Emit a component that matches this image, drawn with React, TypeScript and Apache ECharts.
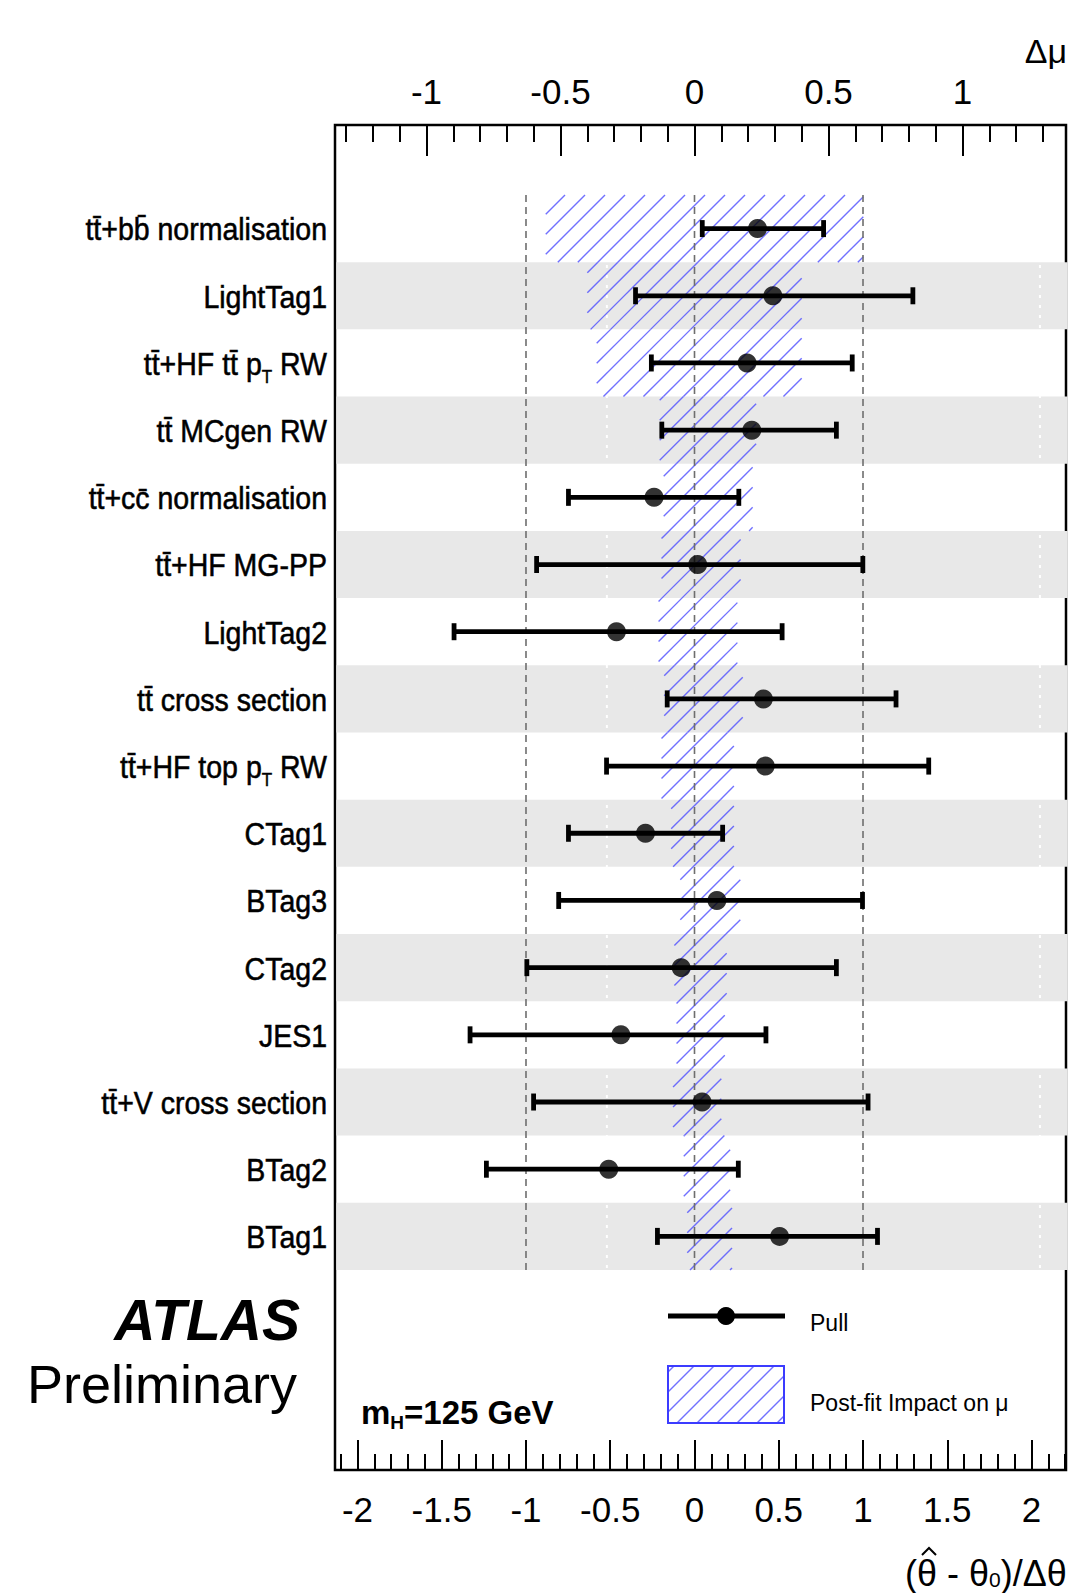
import React, { useEffect, useRef } from 'react';
import * as echarts from 'echarts';

// ---------------- data ----------------
const paramNames = [
  'tt\u0304+bb\u0304 normalisation',
  'LightTag1',
  'tt\u0304+HF tt\u0304 p_T RW',
  'tt\u0304 MCgen RW',
  'tt\u0304+cc\u0304 normalisation',
  'tt\u0304+HF MG-PP',
  'LightTag2',
  'tt\u0304 cross section',
  'tt\u0304+HF top p_T RW',
  'CTag1',
  'BTag3',
  'CTag2',
  'JES1',
  'tt\u0304+V cross section',
  'BTag2',
  'BTag1',
];
const pullValues = [0.374, 0.465, 0.312, 0.34, -0.24, 0.019, -0.463, 0.409, 0.42, -0.291, 0.133, -0.079, -0.437, 0.045, -0.509, 0.505];
const pullLow = [0.046, -0.35, -0.256, -0.194, -0.748, -0.937, -1.427, -0.162, -0.522, -0.748, -0.806, -0.995, -1.332, -0.955, -1.235, -0.22];
const pullHigh = [0.766, 1.296, 0.936, 0.842, 0.263, 0.999, 0.52, 1.196, 1.39, 0.167, 0.997, 0.842, 0.424, 1.03, 0.26, 1.086];
const impactLow = [-0.555, -0.4, -0.365, -0.13, -0.115, -0.123, -0.134, -0.113, -0.123, -0.087, -0.053, -0.075, -0.067, -0.08, -0.04, -0.027];
const impactHigh = [0.63, 0.4, 0.4, 0.23, 0.217, 0.172, 0.16, 0.18, 0.147, 0.147, 0.171, 0.12, 0.113, 0.1, 0.133, 0.14];

const pullTicks = [-2, -1.5, -1, -0.5, 0, 0.5, 1, 1.5, 2];
const pullMinorTicks = [-2.1, -1.9, -1.8, -1.7, -1.6, -1.4, -1.3, -1.2, -1.1, -0.9, -0.8, -0.7, -0.6, -0.4, -0.3, -0.2, -0.1, 0.1, 0.2, 0.3, 0.4, 0.6, 0.7, 0.8, 0.9, 1.1, 1.2, 1.3, 1.4, 1.6, 1.7, 1.8, 1.9, 2.1, 2.2];
const impactTicks = [-1, -0.5, 0, 0.5, 1];
const impactMinorTicks = [-1.3, -1.2, -1.1, -0.9, -0.8, -0.7, -0.6, -0.4, -0.3, -0.2, -0.1, 0.1, 0.2, 0.3, 0.4, 0.6, 0.7, 0.8, 0.9, 1.1, 1.2, 1.3];
const referenceLines = [-1, 0, 1];
const bandGapLines = [-0.52, 2.05];

// ---------------- axis ranges ----------------
const PULL_MIN = -2.1335;
const PULL_MAX = 2.2047;
const IMPACT_MIN = -1.3414;
const IMPACT_MAX = 1.3862;
const ROW_MIN = -1.5419;
const ROW_MAX = 18.477;

const FONT = '"Liberation Sans", Arial, Helvetica, sans-serif';
const HATCH_SPACING = 20;
const hatchStyle = { stroke: '#4d4dff', lineWidth: 1.4, opacity: 0.8 };

function hatchLines(x0: number, y0: number, x1: number, y1: number) {
  const out: any[] = [];
  const start = Math.ceil((x0 + y0) / HATCH_SPACING) * HATCH_SPACING;
  for (let c = start; c <= x1 + y1; c += HATCH_SPACING) {
    const xa = Math.max(x0, c - y1);
    const xb = Math.min(x1, c - y0);
    if (xb - xa > 0.5) {
      out.push({ type: 'line', shape: { x1: xa, y1: c - xa, x2: xb, y2: c - xb }, style: hatchStyle, silent: true });
    }
  }
  return out;
}

function richLabel(name: string) {
  return name
    .split('_T')
    .map((p) => (p ? `{n|${p}}` : ''))
    .join('{s|T}');
}

function buildOption(): any {
  const n = paramNames.length;
  const bandRows = paramNames.map((_, i) => i).filter((i) => i % 2 === 1);
  const tickLine = { color: '#000', width: 2 };
  const labelStyle = { fontSize: 35, fontFamily: FONT, color: '#000' };

  return {
    animation: false,
    backgroundColor: '#fff',
    grid: {
      left: 335,
      top: 125,
      width: 731,
      height: 1345,
      show: true,
      borderColor: '#000',
      borderWidth: 2.5,
      backgroundColor: 'transparent',
      containLabel: false,
      outerBoundsMode: 'none',
    },
    xAxis: [
      {
        type: 'value', position: 'bottom', min: PULL_MIN, max: PULL_MAX,
        axisLine: { show: false, onZero: false }, splitLine: { show: false },
        axisTick: { show: true, inside: true, length: 30, customValues: pullTicks, lineStyle: tickLine },
        axisLabel: { show: true, customValues: pullTicks, margin: 22, ...labelStyle },
      },
      {
        type: 'value', position: 'bottom', min: PULL_MIN, max: PULL_MAX,
        axisLine: { show: false, onZero: false }, splitLine: { show: false },
        axisTick: { show: true, inside: true, length: 16, customValues: pullMinorTicks, lineStyle: tickLine },
        axisLabel: { show: false },
      },
      {
        type: 'value', position: 'top', min: IMPACT_MIN, max: IMPACT_MAX,
        axisLine: { show: false, onZero: false }, splitLine: { show: false },
        axisTick: { show: true, inside: true, length: 31, customValues: impactTicks, lineStyle: tickLine },
        axisLabel: { show: true, customValues: impactTicks, margin: 16, ...labelStyle },
      },
      {
        type: 'value', position: 'top', min: IMPACT_MIN, max: IMPACT_MAX,
        axisLine: { show: false, onZero: false }, splitLine: { show: false },
        axisTick: { show: true, inside: true, length: 17, customValues: impactMinorTicks, lineStyle: tickLine },
        axisLabel: { show: false },
      },
    ],
    yAxis: [{ type: 'value', inverse: true, min: ROW_MIN, max: ROW_MAX, show: false }],
    series: [
      // alternating grey bands
      {
        type: 'custom', xAxisIndex: 0, yAxisIndex: 0, z: 1, clip: false,
        data: bandRows.map((i) => [0, i]), encode: { x: 0, y: 1 },
        renderItem: (params: any, api: any) => {
          const i = api.value(1);
          const p0 = api.coord([PULL_MIN, i - 0.5]);
          const p1 = api.coord([PULL_MAX, i + 0.5]);
          return {
            type: 'rect',
            shape: { x: p0[0] + 1.4, y: p0[1], width: p1[0] - p0[0] + 0.2, height: p1[1] - p0[1] },
            style: { fill: '#e8e8e8' },
          };
        },
      },
      // faint white dotted lines visible on the grey bands
      {
        type: 'custom', xAxisIndex: 0, yAxisIndex: 0, z: 2, clip: false,
        data: bandGapLines.map((v) => [v, 0]), encode: { x: 0, y: 1 },
        renderItem: (params: any, api: any) => {
          const v = api.value(0);
          const a = api.coord([v, -0.5]);
          const b = api.coord([v, n - 0.5]);
          return {
            type: 'line', shape: { x1: a[0], y1: a[1], x2: b[0], y2: b[1] },
            style: { stroke: 'rgba(255,255,255,0.95)', lineWidth: 2, lineDash: [3, 7] },
          };
        },
      },
      // post-fit impact hatching (top axis)
      {
        type: 'custom', xAxisIndex: 2, yAxisIndex: 0, z: 3, clip: false,
        data: paramNames.map((_, i) => [impactLow[i], impactHigh[i], i]), encode: { x: [0, 1], y: 2 },
        renderItem: (params: any, api: any) => {
          const lo = api.value(0);
          const hi = api.value(1);
          const i = api.value(2);
          const p0 = api.coord([lo, i - 0.5]);
          const p1 = api.coord([hi, i + 0.5]);
          const x0 = Math.min(p0[0], p1[0]);
          const x1 = Math.max(p0[0], p1[0]);
          const y0 = Math.min(p0[1], p1[1]);
          const y1 = Math.max(p0[1], p1[1]);
          return { type: 'group', children: hatchLines(x0, y0, x1, y1) };
        },
      },
      // dashed reference lines at -1, 0, 1
      {
        type: 'custom', xAxisIndex: 0, yAxisIndex: 0, z: 4, clip: false,
        data: referenceLines.map((v) => [v, 0]), encode: { x: 0, y: 1 },
        renderItem: (params: any, api: any) => {
          const v = api.value(0);
          const a = api.coord([v, -0.5]);
          const b = api.coord([v, n - 0.5]);
          return {
            type: 'line', shape: { x1: a[0], y1: a[1], x2: b[0], y2: b[1] },
            style: { stroke: '#6e6e6e', lineWidth: 1.6, lineDash: [7, 5] },
          };
        },
      },
      // pull error bars
      {
        type: 'custom', xAxisIndex: 0, yAxisIndex: 0, z: 5, clip: false,
        data: paramNames.map((_, i) => [pullLow[i], pullHigh[i], i]), encode: { x: [0, 1], y: 2 },
        renderItem: (params: any, api: any) => {
          const i = api.value(2);
          const a = api.coord([api.value(0), i]);
          const b = api.coord([api.value(1), i]);
          const st = { stroke: '#000', lineWidth: 4.8 };
          return {
            type: 'group',
            children: [
              { type: 'line', shape: { x1: a[0], y1: a[1], x2: b[0], y2: b[1] }, style: st },
              { type: 'line', shape: { x1: a[0], y1: a[1] - 8.5, x2: a[0], y2: a[1] + 8.5 }, style: st },
              { type: 'line', shape: { x1: b[0], y1: b[1] - 8.5, x2: b[0], y2: b[1] + 8.5 }, style: st },
            ],
          };
        },
      },
      // pull points
      {
        type: 'scatter', xAxisIndex: 0, yAxisIndex: 0, z: 6,
        symbol: 'circle', symbolSize: 19,
        itemStyle: { color: '#000' },
        data: paramNames.map((_, i) => [pullValues[i], i]),
      },
      // row labels
      {
        type: 'custom', xAxisIndex: 0, yAxisIndex: 0, z: 6, clip: false,
        data: paramNames.map((_, i) => [0, i]), encode: { x: 0, y: 1 },
        renderItem: (params: any, api: any) => {
          const i = api.value(1);
          const p = api.coord([PULL_MIN, i]);
          return {
            type: 'text',
            x: p[0] - 8,
            y: p[1] + 1,
            scaleY: 1.08,
            style: {
              text: richLabel(paramNames[params.dataIndex]),
              x: 0, y: 0,
              align: 'right', verticalAlign: 'middle',
              fill: '#000',
              font: `28.5px ${FONT}`,
              rich: {
                n: { font: `28.5px ${FONT}`, fill: '#000', stroke: '#000', lineWidth: 0.5, lineHeight: 40 },
                s: { font: `17px ${FONT}`, fill: '#000', stroke: '#000', lineWidth: 0.4, lineHeight: 14, verticalAlign: 'bottom' },
              },
            },
          };
        },
      },
    ],
    graphic: [
      {
        type: 'text', x: 1067, y: 51,
        style: { text: '\u0394\u03bc', font: `34px ${FONT}`, fill: '#000', align: 'right', verticalAlign: 'middle' },
      },
      {
        type: 'text', x: 905, y: 1573,
        style: {
          text: '{a|(\u03b8 - \u03b8}{s|0}{a|)/\u0394\u03b8}',
          align: 'left', verticalAlign: 'middle', font: `36px ${FONT}`, fill: '#000',
          rich: {
            a: { font: `36px ${FONT}`, fill: '#000', lineHeight: 34 },
            s: { font: `21px ${FONT}`, fill: '#000', lineHeight: 14, verticalAlign: 'bottom' },
          },
        },
      },
      // hat over the first theta
      {
        type: 'polyline',
        shape: { points: [[922, 1555], [929, 1548], [936, 1555]] },
        style: { stroke: '#000', lineWidth: 2, fill: 'none' },
      },
      {
        type: 'text', x: 300, y: 1320,
        style: { text: 'ATLAS', font: `italic bold 57px ${FONT}`, fill: '#000', align: 'right', verticalAlign: 'middle' },
      },
      {
        type: 'text', x: 297, y: 1384,
        style: { text: 'Preliminary', font: `54px ${FONT}`, fill: '#000', align: 'right', verticalAlign: 'middle' },
      },
      {
        type: 'text', x: 361, y: 1412,
        style: {
          text: '{m|m}{s|H}{m|=125 GeV}',
          align: 'left', verticalAlign: 'middle', font: `bold 33px ${FONT}`, fill: '#000',
          rich: {
            m: { font: `bold 33px ${FONT}`, fill: '#000', lineHeight: 40 },
            s: { font: `bold 19px ${FONT}`, fill: '#000', lineHeight: 14, verticalAlign: 'bottom' },
          },
        },
      },
      // legend: pull
      {
        type: 'line', shape: { x1: 668, y1: 1316, x2: 785, y2: 1316 },
        style: { stroke: '#000', lineWidth: 5 },
      },
      { type: 'circle', shape: { cx: 726, cy: 1316, r: 9 }, style: { fill: '#000' } },
      {
        type: 'text', x: 810, y: 1323,
        style: { text: 'Pull', font: `23px ${FONT}`, fill: '#000', align: 'left', verticalAlign: 'middle' },
      },
      // legend: hatched box
      { type: 'group', children: hatchLines(668, 1366, 784, 1423) },
      {
        type: 'rect', shape: { x: 668, y: 1366, width: 116, height: 57 },
        style: { fill: 'none', stroke: '#3c3cff', lineWidth: 2 },
      },
      {
        type: 'text', x: 810, y: 1403,
        style: { text: 'Post-fit Impact on \u03bc', font: `23px ${FONT}`, fill: '#000', align: 'left', verticalAlign: 'middle' },
      },
    ],
  };
}

export default function App() {
  const ref = useRef<HTMLDivElement>(null);
  useEffect(() => {
    document.body.style.margin = '0';
    const chart = echarts.init(ref.current as HTMLDivElement, null, { renderer: 'svg' });
    chart.setOption(buildOption());
    return () => chart.dispose();
  }, []);
  return <div ref={ref} style={{ width: 1081, height: 1593, background: '#fff' }} />;
}
